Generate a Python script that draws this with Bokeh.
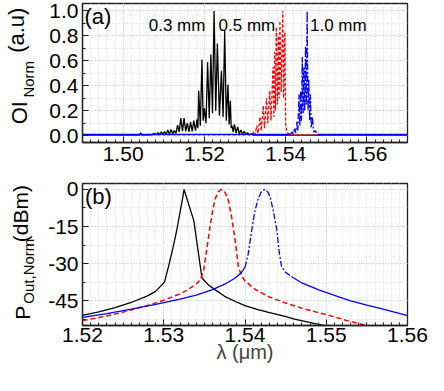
import numpy as np
from bokeh.plotting import figure
from bokeh.models import Range1d, FixedTicker, PrintfTickFormatter, Label, LinearAxis
from bokeh.layouts import column
from bokeh.embed import file_html
from bokeh.resources import INLINE

# ---------------- data: panel (a) output intensity (normalised) ----------------
a_black_lam = [1.4900, 1.5000, 1.5040, 1.5043, 1.5046, 1.5070, 1.5078, 1.5082, 1.5086, 1.5090,
               1.5094, 1.5098, 1.5102, 1.5106, 1.5110, 1.5114, 1.5118, 1.5122, 1.5126, 1.5130,
               1.5134, 1.5138, 1.5142, 1.5146, 1.5150, 1.5154, 1.5158, 1.5162, 1.5166, 1.5170,
               1.5174, 1.5178, 1.5182, 1.5184, 1.5186, 1.5190, 1.5194, 1.5197, 1.5200, 1.5204,
               1.5208, 1.5212, 1.5216, 1.5220, 1.5224, 1.5228, 1.5232, 1.5237, 1.5242, 1.5246,
               1.5250, 1.5254, 1.5258, 1.5261, 1.5264, 1.5266, 1.5268, 1.5271, 1.5274, 1.5278,
               1.5282, 1.5286, 1.5290, 1.5294, 1.5298, 1.5302, 1.5306, 1.5310, 1.5316, 1.5320,
               1.5700]
a_black_oi = [0.005, 0.005, 0.004, 0.022, 0.004, 0.006, 0.018, 0.006, 0.025, 0.008,
              0.030, 0.010, 0.032, 0.010, 0.045, 0.012, 0.050, 0.015, 0.040, 0.018,
              0.085, 0.030, 0.140, 0.035, 0.140, 0.035, 0.100, 0.030, 0.110, 0.035,
              0.120, 0.040, 0.130, 0.060, 0.360, 0.080, 0.610, 0.120, 0.220, 0.100,
              0.590, 0.140, 0.650, 0.180, 1.000, 0.200, 0.740, 0.160, 0.520, 0.150,
              0.840, 0.120, 0.410, 0.090, 0.280, 0.060, 0.080, 0.030, 0.090, 0.020,
              0.070, 0.015, 0.045, 0.010, 0.035, 0.008, 0.025, 0.006, 0.015, 0.004,
              0.004]

a_red_lam = [1.4900, 1.5300, 1.5318, 1.5322, 1.5325, 1.5329, 1.5332, 1.5337, 1.5340, 1.5345,
             1.5348, 1.5353, 1.5356, 1.5361, 1.5364, 1.5369, 1.5371, 1.5373, 1.5375, 1.5377,
             1.5380, 1.5382, 1.5384, 1.5386, 1.5389, 1.5393, 1.5395, 1.5398, 1.5400, 1.5403,
             1.5410, 1.5700]
a_red_oi = [0.006, 0.006, 0.010, 0.035, 0.010, 0.080, 0.020, 0.150, 0.040, 0.240,
            0.060, 0.300, 0.100, 0.360, 0.120, 0.550, 0.150, 0.670, 0.200, 0.870,
            0.250, 0.800, 0.300, 0.920, 0.350, 1.000, 0.300, 0.830, 0.100, 0.030,
            0.006, 0.006]

a_blue_lam = [1.4900, 1.5400, 1.5412, 1.5416, 1.5419, 1.5422, 1.5425, 1.5428, 1.5430, 1.5433,
              1.5435, 1.5437, 1.5439, 1.5441, 1.5443, 1.5445, 1.5447, 1.5449, 1.5451, 1.5453,
              1.5455, 1.5457, 1.5459, 1.5461, 1.5463, 1.5466, 1.5469, 1.5473, 1.5478, 1.5700]
a_blue_oi = [0.010, 0.010, 0.012, 0.030, 0.012, 0.060, 0.020, 0.110, 0.040, 0.330,
             0.080, 0.360, 0.120, 0.630, 0.180, 0.550, 0.200, 0.720, 0.250, 1.000,
             0.200, 0.450, 0.120, 0.330, 0.060, 0.150, 0.030, 0.040, 0.010, 0.010]

# ---------------- data: panel (b) normalised output power (dBm) ----------------
b_black_lam = [1.5200, 1.5220, 1.5240, 1.5260, 1.5280, 1.5290, 1.5301, 1.5306, 1.5312, 1.5316,
               1.5320, 1.5323, 1.5325, 1.5337, 1.5347, 1.5355, 1.5363, 1.5375, 1.5388, 1.5400,
               1.5416, 1.5429, 1.5448, 1.5461, 1.5489, 1.5510, 1.5550]
b_black_p = [-50.9, -49.5, -47.8, -45.7, -43.0, -41.2, -37.4, -31.0, -22.6, -16.5,
             -9.3, -4.0, 0.0, -12.6, -35.8, -38.6, -40.5, -43.2, -45.3, -47.0,
             -48.6, -49.7, -51.2, -52.4, -54.4, -55.8, -57.8]

b_red_lam = [1.5200, 1.5220, 1.5240, 1.5260, 1.5280, 1.5300, 1.5320, 1.5330, 1.5340, 1.5345,
             1.5349, 1.5353, 1.5357, 1.5360, 1.5363, 1.5367, 1.5371, 1.5375, 1.5378, 1.5380,
             1.5384, 1.5388, 1.5392, 1.5396, 1.5400, 1.5413, 1.5430, 1.5449, 1.5470, 1.5489,
             1.5510, 1.5525, 1.5550, 1.5580]
b_red_p = [-53.0, -51.8, -50.4, -48.7, -46.9, -44.8, -42.2, -40.5, -38.2, -36.5,
           -33.0, -24.0, -15.0, -9.0, -4.0, -1.0, 0.0, -1.0, -3.0, -5.0,
           -12.0, -21.0, -31.5, -35.0, -37.0, -40.5, -43.5, -45.8, -48.0, -49.7,
           -51.5, -53.0, -55.0, -57.0]

b_blue_lam = [1.5200, 1.5230, 1.5260, 1.5290, 1.5320, 1.5340, 1.5360, 1.5375, 1.5388, 1.5395,
              1.5400, 1.5404, 1.5408, 1.5412, 1.5416, 1.5420, 1.5424, 1.5428, 1.5431, 1.5435,
              1.5439, 1.5442, 1.5445, 1.5450, 1.5457, 1.5470, 1.5490, 1.5510, 1.5530, 1.5550,
              1.5570, 1.5600]
b_blue_p = [-51.7, -50.2, -48.4, -46.5, -44.3, -42.7, -40.5, -38.3, -35.8, -33.8,
            -31.5, -26.0, -17.0, -9.0, -4.0, -1.0, 0.0, -1.0, -3.0, -9.0,
            -16.0, -25.0, -31.2, -33.5, -35.2, -37.8, -40.5, -42.8, -45.0, -46.8,
            -48.4, -51.0]

# ---------------- ticks / labels ----------------
a_xticks = [1.50, 1.52, 1.54, 1.56]
a_yticks = [0.0, 0.2, 0.4, 0.6, 0.8, 1.0]
b_xticks = [1.52, 1.53, 1.54, 1.55, 1.56]
b_yticks = [-45, -30, -15, 0]
curve_labels = ["0.3 mm", "0.5 mm", "1.0 mm"]
a_ytitle = ("OI", "Norm", "(a.u)")
b_ytitle = ("P", "Out,Norm", "(dBm)")

FONT = "Liberation Sans"
BLACK, RED, BLUE = "#000000", "#ff0000", "#0000ff"
NB = "\u00a0"   # no-break space used as padding
ZW = "\u200b"   # zero-width space: keeps the padding from being trimmed


def before(text, n):
    """padding placed before the text: moves it up the (vertical) axis"""
    return ZW + NB * n + text


def after(text, n):
    """padding placed after the text: moves it down the (vertical) axis"""
    return text + NB * n + ZW


def style(p, xt, xminor, yt, yminor, xfmt, yfmt):
    p.outline_line_color = "#222222"
    p.outline_line_width = 1.3
    p.outline_line_alpha = 1.0
    p.background_fill_color = "white"
    p.border_fill_color = "white"
    xtk = FixedTicker(ticks=xt, minor_ticks=xminor)
    ytk = FixedTicker(ticks=yt, minor_ticks=yminor)
    p.xaxis[0].ticker = xtk
    p.yaxis[0].ticker = ytk
    p.xgrid[0].ticker = xtk
    p.ygrid[0].ticker = ytk
    p.xaxis[0].formatter = PrintfTickFormatter(format=xfmt)
    p.yaxis[0].formatter = PrintfTickFormatter(format=yfmt)
    for ax in (p.xaxis[0], p.yaxis[0]):
        ax.axis_line_color = "#222222"
        ax.axis_line_width = 1.3
        ax.major_tick_in = 6
        ax.major_tick_out = 0
        ax.minor_tick_in = 3
        ax.minor_tick_out = 0
        ax.major_tick_line_color = "#222222"
        ax.minor_tick_line_color = "#222222"
        ax.major_label_text_font = FONT
        ax.major_label_text_font_size = "21px"
        ax.major_label_text_color = "black"
    p.xaxis[0].major_label_standoff = 4
    p.yaxis[0].major_label_standoff = 4
    for g in (p.xgrid[0], p.ygrid[0]):
        g.grid_line_color = "#cccccc"
        g.grid_line_dash = "1 2"
        g.grid_line_width = 1
        g.minor_grid_line_color = "#d8d8d8"
        g.minor_grid_line_dash = "1 2"
        g.minor_grid_line_width = 1


def title_axis(text, size, standoff):
    """an invisible axis that only carries one piece of the rotated y title"""
    return LinearAxis(ticker=FixedTicker(ticks=[]), axis_label=text,
                      axis_label_text_font=FONT, axis_label_text_font_size=size,
                      axis_label_text_font_style="normal", axis_label_text_color="black",
                      axis_label_standoff=standoff, major_label_standoff=0,
                      major_tick_in=0, major_tick_out=0, minor_tick_in=0, minor_tick_out=0,
                      axis_line_color=None)


# ---------------- panel (a) ----------------
p1 = figure(width=428, height=174, x_range=Range1d(1.49, 1.57), y_range=Range1d(-0.055, 1.06),
            output_backend="svg", toolbar_location=None,
            min_border_left=74, min_border_right=21, min_border_top=3, min_border_bottom=32)
style(p1, a_xticks, [round(v, 4) for v in np.arange(1.49, 1.5701, 0.002)],
      a_yticks, [round(v, 2) for v in np.arange(0.0, 1.001, 0.1)], "%.2f", "%.1f")

p1.line(a_black_lam, a_black_oi, line_color=BLACK, line_width=1.3)
p1.line(a_red_lam, a_red_oi, line_color=RED, line_width=1.3, line_dash="3 2")
i0 = a_blue_lam.index(1.5412)
i1 = a_blue_lam.index(1.5478)
p1.line(a_blue_lam[:i0 + 1], a_blue_oi[:i0 + 1], line_color=BLUE, line_width=1.3)
p1.line(a_blue_lam[i0:i1 + 1], a_blue_oi[i0:i1 + 1], line_color=BLUE, line_width=1.3,
        line_dash="6 2 2 2")
p1.line(a_blue_lam[i1:], a_blue_oi[i1:], line_color=BLUE, line_width=1.3)

p1.add_layout(Label(x=1.4905, y=1.06, text="(a)", text_font=FONT, text_font_size="22px",
                    text_baseline="top", text_align="left", text_color="black"))
for xx, txt in zip([1.5063, 1.5235, 1.5460], curve_labels):
    p1.add_layout(Label(x=xx, y=0.885, text=txt, text_font=FONT, text_font_size="17px",
                        text_baseline="alphabetic", text_align="left", text_color="black"))

# y title (a): OI_Norm (a.u)
p1.add_layout(title_axis(after(a_ytitle[1], 3), "15px", 10), "left")
p1.add_layout(title_axis(after(a_ytitle[0], 13), "22px", -15), "left")
p1.add_layout(title_axis(before(a_ytitle[2], 14), "22px", -25), "left")

# ---------------- panel (b) ----------------
p2 = figure(width=428, height=201, x_range=Range1d(1.52, 1.56), y_range=Range1d(-55, 2.4),
            output_backend="svg", toolbar_location=None,
            min_border_left=74, min_border_right=21, min_border_top=9, min_border_bottom=50)
style(p2, b_xticks, [round(v, 4) for v in np.arange(1.52, 1.5601, 0.001)],
      b_yticks, [-52.5, -45, -37.5, -30, -22.5, -15, -7.5, 0], "%.2f", "%d")
p2.xaxis[0].major_label_standoff = 2
p2.xaxis[0].axis_label = "λ (μm)"
p2.xaxis[0].axis_label_text_font = FONT
p2.xaxis[0].axis_label_text_font_size = "20px"
p2.xaxis[0].axis_label_text_font_style = "normal"
p2.xaxis[0].axis_label_standoff = -4

p2.line(b_black_lam, b_black_p, line_color=BLACK, line_width=1.3)
p2.line(b_red_lam, b_red_p, line_color=RED, line_width=1.5, line_dash="5 3")
j0 = b_blue_lam.index(1.5400)
j1 = b_blue_lam.index(1.5457)
p2.line(b_blue_lam[:j0 + 1], b_blue_p[:j0 + 1], line_color=BLUE, line_width=1.3)
p2.line(b_blue_lam[j0:j1 + 1], b_blue_p[j0:j1 + 1], line_color=BLUE, line_width=1.3,
        line_dash="6 2 2 2")
p2.line(b_blue_lam[j1:], b_blue_p[j1:], line_color=BLUE, line_width=1.3)

p2.add_layout(Label(x=1.5203, y=2.4, text="(b)", text_font=FONT, text_font_size="22px",
                    text_baseline="top", text_align="left", text_color="black"))

# y title (b): P_Out,Norm (dBm)
p2.add_layout(title_axis(after(b_ytitle[1], 8), "15px", 9), "left")
p2.add_layout(title_axis(after(b_ytitle[0], 20), "21px", -17), "left")
p2.add_layout(title_axis(before(b_ytitle[2], 14), "21px", -24), "left")

layout = column(p1, p2)
open("out.html", "w").write(file_html(layout, INLINE))
